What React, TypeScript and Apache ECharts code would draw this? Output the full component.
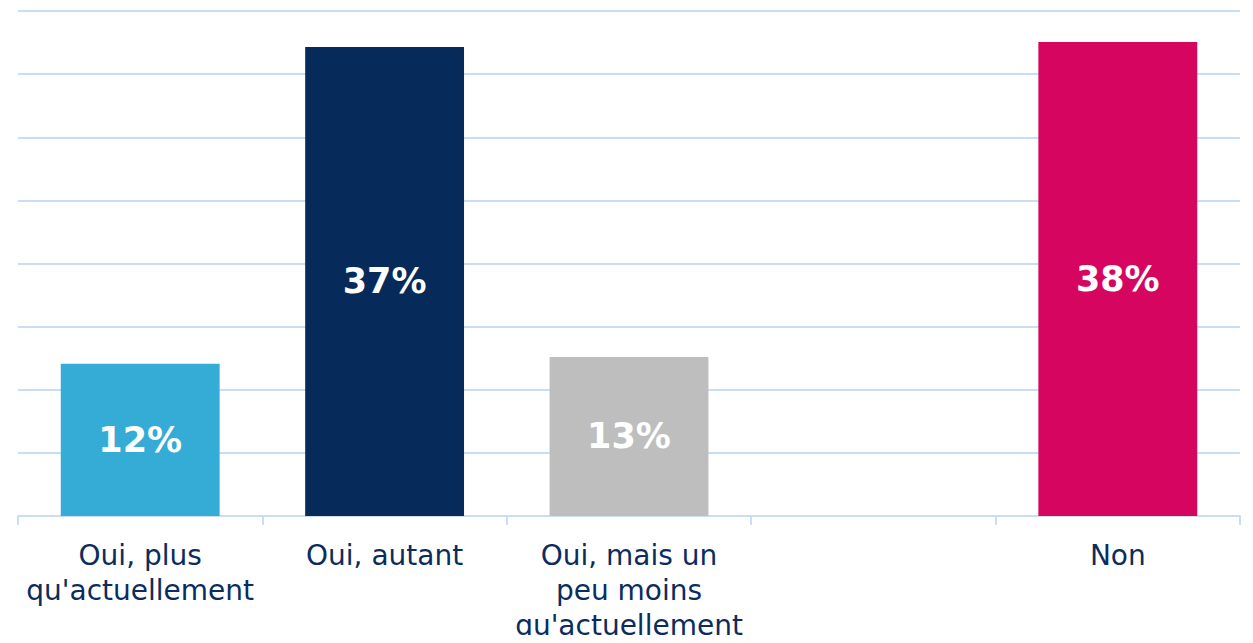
import React, { useEffect, useRef } from "react";
import * as echarts from "echarts";

const categories = [
  "Oui, plus\nqu'actuellement",
  "Oui, autant",
  "Oui, mais un\npeu moins\nqu'actuellement",
  "",
  "Non",
];
const values: (number | null)[] = [12.05, 37.15, 12.6, null, 37.55];
const valueLabels = ["12%", "37%", "13%", "", "38%"];
const barColors = ["#34acd6", "#062a5a", "#bebebe", "#ffffff", "#d6055f"];

export default function App() {
  const ref = useRef<HTMLDivElement>(null);
  useEffect(() => {
    if (!ref.current) return;
    const chart = echarts.init(ref.current, undefined, { renderer: "svg" });
    chart.setOption({
      animation: false,
      grid: { left: 18, right: 13, top: 11, bottom: 127, containLabel: false },
      xAxis: {
        type: "category",
        data: categories,
        axisLine: { lineStyle: { color: "#c9def6", width: 2 } },
        axisTick: { show: true, length: 9, lineStyle: { color: "#c9def6", width: 2 } },
        axisLabel: {
          interval: 0,
          margin: 22,
          color: "#0b2c5d",
          fontFamily: "DejaVu Sans",
          fontSize: 28,
          lineHeight: 35,
        },
      },
      yAxis: {
        type: "value",
        min: 0,
        max: 40,
        interval: 5,
        axisLabel: { show: false },
        axisLine: { show: false },
        axisTick: { show: false },
        splitLine: { lineStyle: { color: "#c9def6", width: 2 } },
      },
      series: [
        {
          type: "bar",
          barWidth: "65%",
          data: values.map((v, i) => ({
            value: v,
            itemStyle: { color: barColors[i] },
            label: {
              show: v !== null,
              position: "inside",
              formatter: valueLabels[i],
              color: "#ffffff",
              fontFamily: "DejaVu Sans",
              fontWeight: "bold",
              fontSize: 35,
            },
          })),
        },
      ],
    });
    return () => chart.dispose();
  }, []);
  return <div ref={ref} style={{ width: 1253, height: 643, margin: -8 }} />;
}
